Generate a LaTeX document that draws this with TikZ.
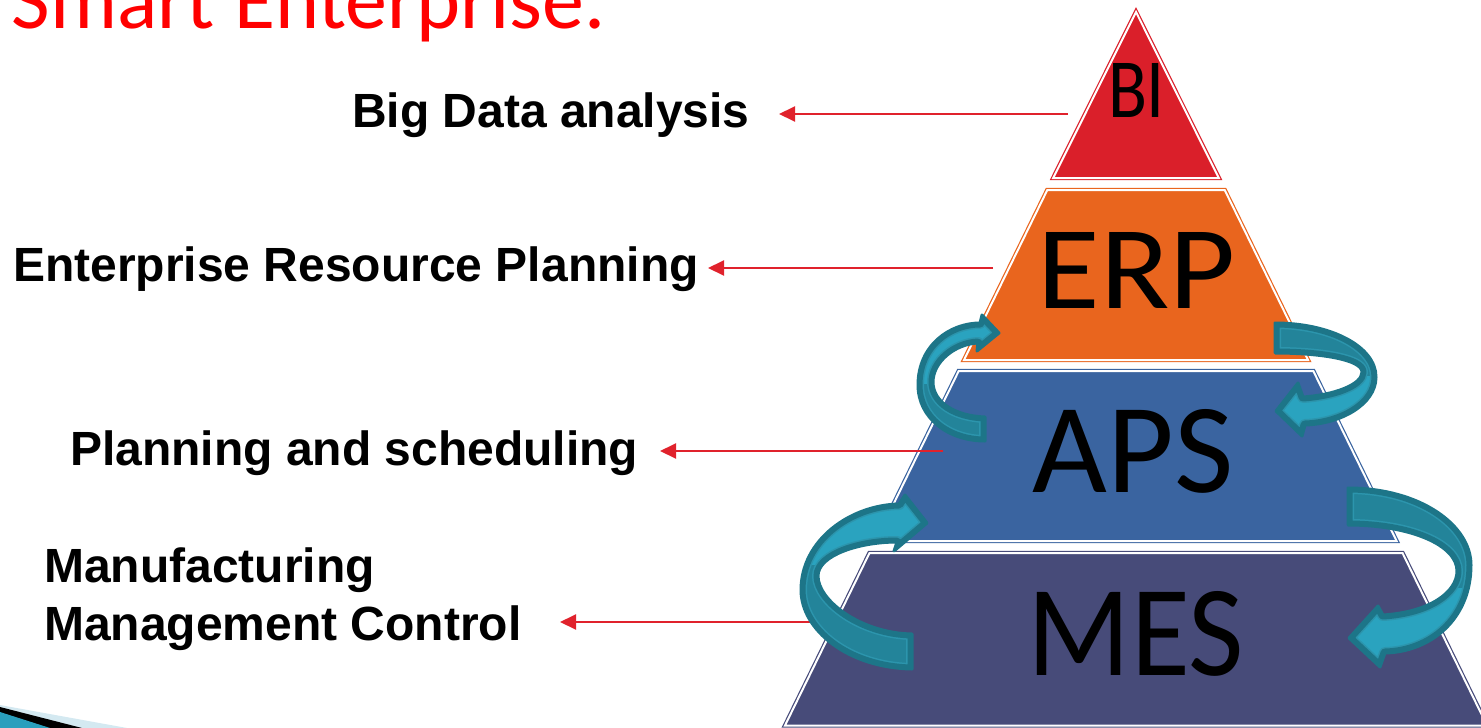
\documentclass[tikz,border=0pt]{standalone}
\usepackage{fontspec}
\setmainfont{Liberation Sans}
\newfontfamily\themefont{Carlito}
\usetikzlibrary{arrows.meta}

\definecolor{biRed}{HTML}{DA1F2A}
\definecolor{erpOrange}{HTML}{E9651E}
\definecolor{apsBlue}{HTML}{3A64A0}
\definecolor{mesIndigo}{HTML}{474B79}
\definecolor{pointerRed}{HTML}{E0222C}
\definecolor{titleRed}{HTML}{FF0000}
\definecolor{ribbonRim}{HTML}{1D7588}
\definecolor{ribbonBack}{HTML}{23849A}
\definecolor{ribbonFront}{HTML}{2AA3BF}
\definecolor{ribbonLine}{HTML}{2C95AD}
\definecolor{cornerBlue}{HTML}{D4E9F1}
\definecolor{cornerTeal}{HTML}{2A9FBD}

\tikzset{
  tier/.style={fill=#1, draw=#1, line width=1.2pt, double=white,
    double distance=2pt, line join=miter},
  tierlabel/.style={inner sep=0pt, font=\themefont},
  sidelabel/.style={anchor=base west, inner sep=0pt,
    font=\bfseries\fontsize{48}{57}\selectfont},
  pointer/.style={draw=pointerRed, line width=2pt,
    -{Triangle[length=16pt,width=15pt]}},
}

% curved 3D ribbon arrow: #1 closed outline, #2 region of the far (darker) side
\newcommand\ribbon[2]{%
  \fill[ribbonFront] #1;
  \begin{scope}
    \clip #1;
    \fill[ribbonBack] #2;
    \draw[ribbonLine, line width=12pt, line join=round] #1;
    \draw[ribbonRim, line width=9pt, line join=round] #1;
  \end{scope}
  \draw[ribbonRim, line width=3pt, line join=round] #1;
}

\begin{document}
\begin{tikzpicture}[x=1pt, y=-1pt]
\useasboundingbox (0,0) rectangle (1481,728);
\clip (0,0) rectangle (1481,728);

% title
\node[anchor=base west, inner sep=0pt, text=titleRed,
  font=\themefont\fontsize{84}{90}\selectfont] (title) at (11.5,28) {Smart Enterprise.};

% corner decoration
\fill[cornerBlue] (0,705) -- (127,728) -- (0,728) -- cycle;
\fill[black] (0,707) -- (82,728) -- (0,728) -- cycle;
\fill[cornerTeal] (0,712) -- (50,728) -- (0,728) -- cycle;

% pyramid tiers
\path[tier=biRed] (1136,12) -- (1218.8,178) -- (1053.2,178) -- cycle;
\path[tier=erpOrange] (1047.3,190) -- (1224.7,190) -- (1308,360) -- (964,360) -- cycle;
\path[tier=apsBlue] (958.7,371) -- (1313.3,371) -- (1396.6,541) -- (875.4,541) -- cycle;
\path[tier=mesIndigo] (869.5,553) -- (1402.5,553) -- (1487,725.5) -- (785,725.5) -- cycle;

% tier names
\node[tierlabel] (tBI)  at (1136.5,90)  {\resizebox{57pt}{54pt}{BI}};
\node[tierlabel] (tERP) at (1137,270)   {\resizebox{198pt}{76pt}{ERP}};
\node[tierlabel] (tAPS) at (1133,451)   {\resizebox{201pt}{83pt}{APS}};
\node[tierlabel] (tMES) at (1136,633.5) {\resizebox{216pt}{84pt}{MES}};

% descriptions
\node[sidelabel] (lBI)   at (352,127) {Big Data analysis};
\node[sidelabel] (lERP)  at (13,281)  {Enterprise Resource Planning};
\node[sidelabel] (lAPS)  at (70,465)  {Planning and scheduling};
\node[sidelabel] (lMESa) at (44,582)  {Manufacturing};
\node[sidelabel] (lMESb) at (44,640)  {Management Control};

% pointers from the tiers to their descriptions
\coordinate (pBI)  at (1068,114);  \coordinate (qBI)  at (779,114);
\coordinate (pERP) at (993,268);   \coordinate (qERP) at (708,268);
\coordinate (pAPS) at (943,451);   \coordinate (qAPS) at (660,451);
\coordinate (pMES) at (840,622);   \coordinate (qMES) at (560,622);
\draw[pointer] (pBI) -- (qBI);
\draw[pointer] (pERP) -- (qERP);
\draw[pointer] (pAPS) -- (qAPS);
\draw[pointer] (pMES) -- (qMES);

% curved arrows between the tiers
\ribbon{(985,441) .. controls (948,441) and (918,418) .. (918,385)
  .. controls (918,345) and (950,323) .. (980,323) -- (982,315) -- (999,333)
  -- (977,351) -- (978,343) .. controls (955,344) and (933,362) .. (933,382)
  .. controls (933,402) and (955,416) .. (985,417) -- cycle}
  {(880,384) rectangle (1010,460)}
\ribbon{(1275,323) .. controls (1330,323) and (1376,346) .. (1376,377)
  .. controls (1376,405) and (1340,424) .. (1305,425) -- (1302,436) -- (1276,411)
  -- (1298,383) -- (1303,397) .. controls (1333,395) and (1362,385) .. (1362,372)
  .. controls (1362,360) and (1322,353) .. (1275,353) -- cycle}
  {(1260,300) rectangle (1400,376)}
\ribbon{(912,669) .. controls (848,668) and (801,630) .. (801,590)
  .. controls (801,540) and (850,505) .. (899,504) -- (905,495) -- (927,523)
  -- (894,551) -- (897,542) .. controls (860,542) and (818,555) .. (818,576)
  .. controls (818,600) and (860,633) .. (912,634) -- cycle}
  {(780,565) rectangle (930,690)}
\ribbon{(1348,488) .. controls (1420,488) and (1471,525) .. (1471,565)
  .. controls (1471,620) and (1430,652) .. (1385,653) -- (1380,667) -- (1349,638)
  -- (1378,606) -- (1383,615) .. controls (1430,612) and (1457,592) .. (1457,571)
  .. controls (1457,545) and (1410,525) .. (1348,525) -- cycle}
  {(1330,470) rectangle (1490,588)}

\end{tikzpicture}
\end{document}
